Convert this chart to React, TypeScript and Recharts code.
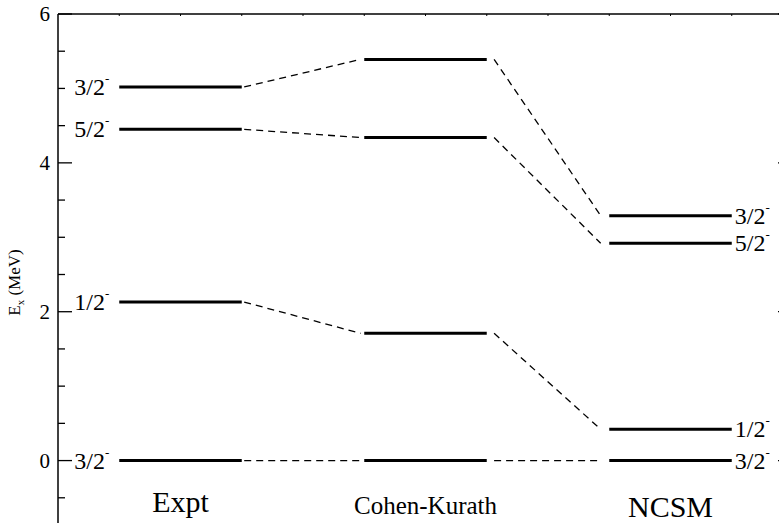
import React from 'react';
import { ComposedChart, Line, XAxis, YAxis, ReferenceDot } from 'recharts';

// Level energies (MeV), ordered from ground state upward
const exptLevels = [0, 2.13, 4.45, 5.02];
const ckLevels = [0, 1.71, 4.34, 5.39];
const ncsmLevels = [0, 0.42, 2.92, 3.29];
const exptLabels = ['3/2', '1/2', '5/2', '3/2'];
const ncsmLabels = ['3/2', '1/2', '5/2', '3/2'];
const columnNames = ['Expt', 'Cohen-Kurath', 'NCSM'];
const columnPos = [1, 2, 3];
const yTicks = [-0.5, 0, 0.5, 1, 1.5, 2, 2.5, 3, 3.5, 4, 4.5, 5, 5.5, 6];
const yMajor = [0, 2, 4, 6];
const topTicks = [0.75, 1, 1.25, 1.5, 1.75, 2, 2.25, 2.5, 2.75, 3, 3.25];

const HALF = 0.25;
const SERIF = "'Liberation Serif', 'Times New Roman', Times, serif";

type Pt = { x: number; y: number };
const seg = (x1: number, x2: number, y1: number, y2: number): Pt[] => [
  { x: x1, y: y1 },
  { x: x2, y: y2 },
];

const LevelLabel = (side: 'left' | 'right', text: string) => (props: any) => {
  const { x, y, index } = props;
  if (side === 'left' && index !== 0) return null;
  if (side === 'right' && index !== 1) return null;
  const tx = side === 'left' ? x - 10 : x + 3;
  return (
    <text x={tx} y={y + 8} textAnchor={side === 'left' ? 'end' : 'start'} style={{ fontFamily: SERIF }} fontSize={24} fill="#000">
      {text}
      <tspan fontSize={13} dy={-12}>-</tspan>
    </text>
  );
};

const LeftTick = (props: any) => {
  const { x, y, payload } = props;
  const v = payload.value;
  const major = yMajor.includes(v);
  return (
    <g>
      <line x1={x} x2={x + (major ? 14 : 7)} y1={y} y2={y} stroke="#000" strokeWidth={1.3} />
      {major && (
        <text x={x - 8} y={y + 7} textAnchor="end" style={{ fontFamily: SERIF }} fontSize={21} fill="#000">
          {v}
        </text>
      )}
    </g>
  );
};

const RightTick = (props: any) => {
  const { x, y, payload } = props;
  const major = yMajor.includes(payload.value);
  return <line x1={x} x2={x - (major ? 15 : 7)} y1={y} y2={y} stroke="#000" strokeWidth={1.3} />;
};

const TopTick = (props: any) => {
  const { x, y } = props;
  return <line x1={x} x2={x} y1={y} y2={y + 2} stroke="#000" strokeWidth={1} />;
};

const YLabel = (props: any) => {
  const vb = props.viewBox;
  const cx = vb.x + 20;
  const cy = vb.y + vb.height / 2 + 8;
  return (
    <text x={cx} y={cy} transform={`rotate(-90 ${cx} ${cy})`} textAnchor="middle" style={{ fontFamily: SERIF }} fontSize={17} fill="#000">
      E<tspan fontSize={11} dy={4}>x</tspan>
      <tspan dy={-4}> (MeV)</tspan>
    </text>
  );
};

const catBaseline = [-0.69, -0.72, -0.76];
const catFont = [30, 25, 30];

export default function App() {
  const columns = [exptLevels, ckLevels, ncsmLevels];
  const levelLines: React.ReactNode[] = [];
  columns.forEach((levels, ci) => {
    const c = columnPos[ci];
    levels.forEach((e, li) => {
      let label: any = undefined;
      if (ci === 0) label = LevelLabel('left', exptLabels[li]);
      if (ci === 2) label = LevelLabel('right', ncsmLabels[li]);
      levelLines.push(
        <Line
          key={`lv-${ci}-${li}`}
          yAxisId="left"
          data={seg(c - HALF, c + HALF, e, e)}
          dataKey="y"
          stroke="#000"
          strokeWidth={3}
          dot={false}
          activeDot={false}
          label={label}
          isAnimationActive={false}
        />
      );
    });
  });
  const connectors: React.ReactNode[] = [];
  const gaps = [
    [0.26, 0.265],
    [0.28, 0.285],
  ];
  for (let ci = 0; ci < 2; ci++) {
    const a = columns[ci];
    const b = columns[ci + 1];
    a.forEach((e, li) => {
      connectors.push(
        <Line
          key={`cn-${ci}-${li}`}
          yAxisId="left"
          data={seg(columnPos[ci] + gaps[ci][0], columnPos[ci + 1] - gaps[ci][1], e, b[li])}
          dataKey="y"
          stroke="#000"
          strokeWidth={1.3}
          strokeDasharray="7 5"
          dot={false}
          activeDot={false}
          isAnimationActive={false}
        />
      );
    });
  }
  return (
    <div style={{ position: 'absolute', left: 0, top: 0, width: 779, height: 523, overflow: 'hidden', background: '#fff' }}>
      <ComposedChart width={800} height={540} margin={{ top: 0, right: 0, bottom: 5, left: 0 }}>
        <XAxis
          dataKey="x"
          type="number"
          orientation="top"
          domain={[0.5, 3.5]}
          allowDataOverflow
          ticks={topTicks}
          tick={<TopTick />}
          tickLine={false}
          tickSize={0}
          tickMargin={0}
          height={14}
          axisLine={{ stroke: '#000', strokeWidth: 1.5 }}
        />
        <YAxis
          yAxisId="left"
          type="number"
          domain={[-1, 6]}
          allowDataOverflow
          ticks={yTicks}
          interval={0}
          tick={<LeftTick />}
          tickLine={false}
          tickSize={0}
          tickMargin={0}
          width={58}
          axisLine={{ stroke: '#000', strokeWidth: 1.5 }}
          label={{ content: <YLabel /> }}
        />
        <YAxis
          yAxisId="right"
          orientation="right"
          type="number"
          domain={[-1, 6]}
          allowDataOverflow
          ticks={yTicks}
          interval={0}
          tick={<RightTick />}
          tickLine={false}
          tickSize={0}
          tickMargin={0}
          width={7}
          axisLine={{ stroke: '#000', strokeWidth: 1.5 }}
        />
        {connectors}
        {levelLines}
        {columnNames.map((name, i) => (
          <ReferenceDot
            key={name}
            yAxisId="left"
            x={columnPos[i]}
            y={catBaseline[i]}
            r={0}
            ifOverflow="visible"
            shape={(p: any) => (
              <text x={p.cx} y={p.cy} textAnchor="middle" style={{ fontFamily: SERIF }} fontSize={catFont[i]} fill="#000">
                {name}
              </text>
            )}
          />
        ))}
      </ComposedChart>
    </div>
  );
}
